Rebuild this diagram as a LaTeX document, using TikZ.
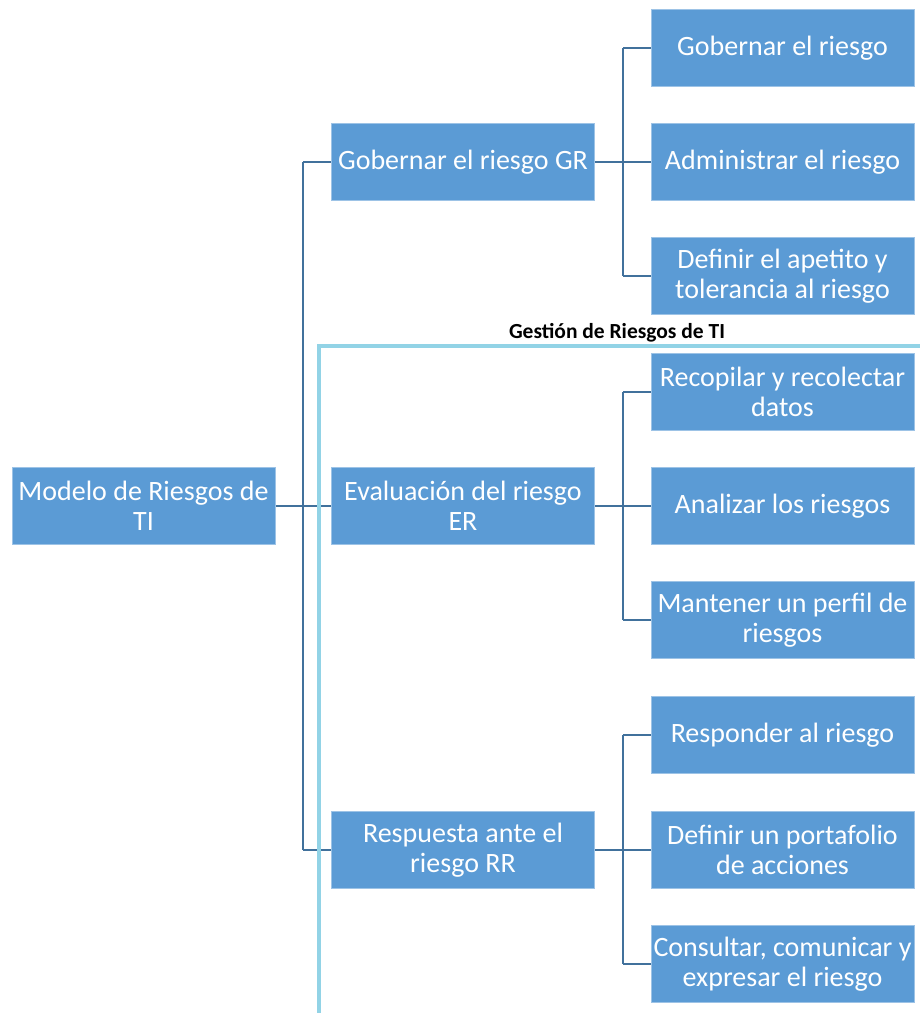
\documentclass[tikz,border=0pt]{standalone}
\usepackage{fontspec}
\setmainfont{Carlito}
\usetikzlibrary{positioning}

\definecolor{boxblue}{HTML}{5B9BD5}
\definecolor{boxline}{HTML}{9DC3E6}
\definecolor{linkblue}{HTML}{41719C}
\definecolor{zoneblue}{HTML}{92D3E6}

\tikzset{
  box/.style={draw=boxline, line width=1pt, fill=boxblue, text=white,
    minimum width=263pt, minimum height=77pt,
    inner sep=0pt, align=center, font=\fontsize{28}{30}\selectfont},
  link/.style={draw=linkblue, line width=2.8pt},
  zone/.style={draw=zoneblue, line width=4pt}
}

\begin{document}
\begin{tikzpicture}[x=1pt, y=-1pt]
    \useasboundingbox (0,0) rectangle (920,1013);

    % root
    \node[box] (mrt) at (143.5,506) {Modelo de Riesgos de\\TI};

    % second level
    \node[box] (gr) at (463,162) {Gobernar el riesgo GR};
    \node[box] (er) at (463,506) {Evaluación del riesgo\\ER};
    \node[box] (rr) at (463,850) {Respuesta ante el\\riesgo RR};

    % third level
    \node[box] (gr1) at (782.5,48)  {Gobernar el riesgo};
    \node[box] (gr2) at (782.5,162) {Administrar el riesgo};
    \node[box] (gr3) at (782.5,276) {Definir el apetito y\\tolerancia al riesgo};
    \node[box] (er1) at (782.5,392) {Recopilar y recolectar\\datos};
    \node[box] (er2) at (782.5,506) {Analizar los riesgos};
    \node[box] (er3) at (782.5,620) {Mantener un perfil de\\riesgos};
    \node[box] (rr1) at (782.5,735) {Responder al riesgo};
    \node[box] (rr2) at (782.5,850) {Definir un portafolio\\de acciones};
    \node[box] (rr3) at (782.5,964) {Consultar, comunicar y\\expresar el riesgo};

    % trunks
    \coordinate (t0) at (303,506);
    \coordinate (tgr) at (623,162);
    \coordinate (ter) at (623,506);
    \coordinate (trr) at (623,850);

    % root to second level
    \draw[link] (mrt.east) -- (t0);
    \draw[link] (t0 |- gr.west) -- (t0 |- rr.west);
    \foreach \n in {gr,er,rr}
        \draw[link] (t0 |- \n.west) -- (\n.west);

    % second level to third level
    \foreach \n in {gr,er,rr}{
        \draw[link] (\n.east) -- (t\n);
        \draw[link] (t\n |- \n1.west) -- (t\n |- \n3.west);
        \foreach \i in {1,2,3}
            \draw[link] (t\n |- \n\i.west) -- (\n\i.west);
    }

    % zone of IT risk management
    \coordinate (zc) at (319,346);
    \draw[zone] (319,1013) -- (zc) -- (920,346);
    \node[font=\fontsize{21.5}{24}\selectfont\bfseries, anchor=base] (zlabel)
        at (617,338) {Gestión de Riesgos de TI};

\end{tikzpicture}
\end{document}
